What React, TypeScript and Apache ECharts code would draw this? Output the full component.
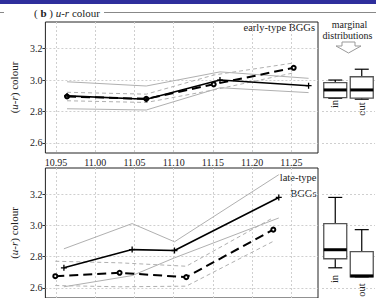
import React, { useEffect, useRef } from "react";
import * as echarts from "echarts";

// ---- data ----
const xTicks = [10.95, 11.0, 11.05, 11.1, 11.15, 11.2, 11.25];
const yTicks = [2.6, 2.8, 3.0, 3.2];
const yTicksBoxTop = [2.6, 2.8, 3.0];
const yTicksBoxBottom = [2.6, 2.8, 3.0, 3.2];

// early-type BGGs (top panel)
const topInX = [10.964, 11.065, 11.159, 11.272];
const topInY = [2.899, 2.878, 3.0, 2.964];
const topInHi = [2.989, 2.962, 3.052, 3.011];
const topInLo = [2.817, 2.809, 2.951, 2.92];
const topOutX = [10.964, 11.065, 11.151, 11.253];
const topOutY = [2.895, 2.88, 2.973, 3.078];
const topOutHi = [2.922, 2.91, 3.032, 3.109];
const topOutLo = [2.868, 2.857, 2.937, 3.046];

// late-type BGGs (bottom panel)
const botInX = [10.96, 11.047, 11.101, 11.234];
const botInY = [2.729, 2.846, 2.84, 3.181];
const botInHi = [2.851, 3.013, 2.896, 3.327];
const botInLo = [2.607, 2.679, 2.793, 3.049];
const botOutX = [10.949, 11.031, 11.116, 11.227];
const botOutY = [2.675, 2.697, 2.669, 2.974];
const botOutHi = [2.771, 2.761, 2.739, 3.051];
const botOutLo = [2.615, 2.607, 2.611, 2.899];

// marginal distributions: [min, q1, median, q3, max]
const boxCats = ["in", "out"];
const topBoxMin = [2.884, 2.878];
const topBoxQ1 = [2.888, 2.885];
const topBoxMed = [2.937, 2.937];
const topBoxQ3 = [2.983, 3.021];
const topBoxMax = [3.0, 3.069];
const botBoxMin = [2.729, 2.67];
const botBoxQ1 = [2.787, 2.671];
const botBoxMed = [2.845, 2.677];
const botBoxQ3 = [3.013, 2.833];
const botBoxMax = [3.181, 2.974];

const FONT = "Liberation Serif";
const X_MIN = 10.9364;
const X_MAX = 11.284;
const Y_MIN = 2.535;
const Y_MAX = 3.37;

const pairs = (xs: number[], ys: number[]) => xs.map((x, i) => [x, ys[i]]);

const PLUS = "path://M0,5L10,5M5,0L5,10";

function lineSeries(
  name: string,
  idx: number,
  xs: number[],
  ys: number[],
  kind: "in" | "out" | "inBand" | "outBand"
): any {
  const base: any = {
    name,
    type: "line",
    xAxisIndex: idx,
    yAxisIndex: idx,
    data: pairs(xs, ys),
    silent: true,
  };
  if (kind === "inBand") {
    return { ...base, symbol: "none", z: 2, lineStyle: { color: "#b0b0b0", width: 1 } };
  }
  if (kind === "outBand") {
    return { ...base, symbol: "none", z: 2, lineStyle: { color: "#b0b0b0", width: 1, type: [4, 3] } };
  }
  if (kind === "in") {
    return {
      ...base,
      z: 5,
      symbol: PLUS,
      symbolSize: 6,
      itemStyle: { color: "#000", borderColor: "#000", borderWidth: 1.3 },
      lineStyle: { color: "#000", width: 1.6 },
    };
  }
  return {
    ...base,
    z: 4,
    symbol: "emptyCircle",
    symbolSize: 4,
    itemStyle: { color: "#000", borderColor: "#000", borderWidth: 1 },
    lineStyle: { color: "#000", width: 2, type: [9, 5] },
  };
}

function boxSeries(idx: number, mins: number[], q1: number[], med: number[], q3: number[], max: number[]): any {
  const data = boxCats.map((_, i) => [i, mins[i], q1[i], med[i], q3[i], max[i]]);
  return {
    type: "custom",
    xAxisIndex: idx,
    yAxisIndex: idx,
    data,
    encode: { x: 0, y: [1, 2, 3, 4, 5] },
    silent: true,
    renderItem: (_params: any, api: any) => {
      const c = api.value(0);
      const xc = api.coord([c, api.value(3)])[0];
      const yMin = api.coord([c, api.value(1)])[1];
      const yQ1 = api.coord([c, api.value(2)])[1];
      const yMed = api.coord([c, api.value(3)])[1];
      const yQ3 = api.coord([c, api.value(4)])[1];
      const yMax = api.coord([c, api.value(5)])[1];
      const hw = 11.5;
      const cw = 7;
      const ws = { stroke: "#000", lineWidth: 1.2 };
      return {
        type: "group",
        children: [
          { type: "line", shape: { x1: xc, y1: yMax, x2: xc, y2: yQ3 }, style: ws },
          { type: "line", shape: { x1: xc, y1: yQ1, x2: xc, y2: yMin }, style: ws },
          { type: "line", shape: { x1: xc - cw, y1: yMax, x2: xc + cw, y2: yMax }, style: ws },
          { type: "line", shape: { x1: xc - cw, y1: yMin, x2: xc + cw, y2: yMin }, style: ws },
          {
            type: "rect",
            shape: { x: xc - hw, y: yQ3, width: 2 * hw, height: yQ1 - yQ3 },
            style: { fill: "#fff", stroke: "#555", lineWidth: 1.3 },
          },
          {
            type: "line",
            shape: { x1: xc - hw, y1: yMed, x2: xc + hw, y2: yMed },
            style: { stroke: "#000", lineWidth: 3 },
          },
        ],
      };
    },
  };
}

const splitLineStyle = { show: true, lineStyle: { color: "#cfcfcf", width: 1, type: [2, 2] } };

function mainX(idx: number, showLabels: boolean): any {
  return {
    type: "value",
    gridIndex: idx,
    min: X_MIN,
    max: X_MAX,
    axisLine: { show: false },
    axisTick: { show: false, customValues: xTicks },
    axisLabel: {
      show: showLabels,
      customValues: xTicks,
      formatter: (v: number) => v.toFixed(2),
      fontFamily: FONT,
      fontSize: 10,
      color: "#222",
      margin: 4,
    },
    splitLine: splitLineStyle,
  };
}

function mainY(idx: number): any {
  return {
    type: "value",
    gridIndex: idx,
    min: Y_MIN,
    max: Y_MAX,
    axisLine: { show: false },
    axisTick: { show: true, length: 3, customValues: yTicks, lineStyle: { color: "#333" } },
    axisLabel: {
      customValues: yTicks,
      formatter: (v: number) => v.toFixed(1),
      fontFamily: FONT,
      fontSize: 10,
      color: "#222",
      margin: 3,
    },
    splitLine: splitLineStyle,
    name: "{p|(}{i|u-r}{p|) colour}",
    nameLocation: "middle",
    nameRotate: 90,
    nameGap: 20,
    nameTextStyle: {
      rich: {
        p: { fontFamily: FONT, fontSize: 11, color: "#222" },
        i: { fontFamily: FONT, fontSize: 11, fontStyle: "italic", color: "#222" },
      },
    },
  };
}

function boxX(idx: number): any {
  return {
    type: "category",
    gridIndex: idx,
    data: boxCats,
    axisLine: { show: false },
    axisTick: { show: false },
    axisLabel: { show: false },
    splitLine: { show: false },
  };
}

function boxY(idx: number, ticks: number[]): any {
  return {
    type: "value",
    gridIndex: idx,
    min: Y_MIN,
    max: Y_MAX,
    axisLine: { show: false },
    axisTick: { show: false, customValues: ticks },
    axisLabel: { show: false, customValues: ticks },
    splitLine: splitLineStyle,
  };
}

const txt = (text: string, x: number, y: number, align: string, extra: any = {}) => ({
  type: "text",
  x,
  y,
  silent: true,
  ...extra,
  style: {
    text,
    fontFamily: FONT,
    fontSize: 10.5,
    fill: "#222",
    align,
    verticalAlign: "middle",
    ...(extra.style || {}),
  },
});

export default function App() {
  const ref = useRef<HTMLDivElement>(null);
  useEffect(() => {
    if (!ref.current) return;
    const chart = echarts.init(ref.current, null, { renderer: "svg" });
    const gridBox = { show: true, borderColor: "#222", borderWidth: 1, backgroundColor: "transparent" };
    chart.setOption({
      animation: false,
      backgroundColor: "#fff",
      grid: [
        { left: 35, top: 22, width: 283, height: 131, ...gridBox },
        { left: 35, top: 168, width: 283, height: 131, ...gridBox },
        { left: 322, top: 22, width: 53, height: 131 },
        { left: 322, top: 168, width: 53, height: 131 },
      ],
      xAxis: [mainX(0, true), mainX(1, false), boxX(2), boxX(3)],
      yAxis: [mainY(0), mainY(1), boxY(2, yTicksBoxTop), boxY(3, yTicksBoxBottom)],
      series: [
        lineSeries("topInHi", 0, topInX, topInHi, "inBand"),
        lineSeries("topInLo", 0, topInX, topInLo, "inBand"),
        lineSeries("topOutHi", 0, topOutX, topOutHi, "outBand"),
        lineSeries("topOutLo", 0, topOutX, topOutLo, "outBand"),
        lineSeries("topOut", 0, topOutX, topOutY, "out"),
        lineSeries("topIn", 0, topInX, topInY, "in"),
        lineSeries("botInHi", 1, botInX, botInHi, "inBand"),
        lineSeries("botInLo", 1, botInX, botInLo, "inBand"),
        lineSeries("botOutHi", 1, botOutX, botOutHi, "outBand"),
        lineSeries("botOutLo", 1, botOutX, botOutLo, "outBand"),
        lineSeries("botOut", 1, botOutX, botOutY, "out"),
        lineSeries("botIn", 1, botInX, botInY, "in"),
        boxSeries(2, topBoxMin, topBoxQ1, topBoxMed, topBoxQ3, topBoxMax),
        boxSeries(3, botBoxMin, botBoxQ1, botBoxMed, botBoxQ3, botBoxMax),
      ],
      graphic: [
        { type: "rect", shape: { x: 0, y: 0, width: 376, height: 4 }, style: { fill: "#2e2e9c" }, silent: true },
        { type: "line", shape: { x1: 0, y1: 12.5, x2: 4, y2: 12.5 }, style: { stroke: "#888", lineWidth: 1 }, silent: true },
        { type: "line", shape: { x1: 104, y1: 12.5, x2: 376, y2: 12.5 }, style: { stroke: "#888", lineWidth: 1 }, silent: true },
        {
          type: "text",
          x: 34,
          y: 13,
          silent: true,
          style: {
            text: "{p|( }{b|b}{p| ) }{i|u-r}{p| colour}",
            verticalAlign: "middle",
            align: "left",
            rich: {
              p: { fontFamily: FONT, fontSize: 11, fill: "#222" },
              b: { fontFamily: FONT, fontSize: 11, fontWeight: "bold", fill: "#222" },
              i: { fontFamily: FONT, fontSize: 11, fontStyle: "italic", fill: "#222" },
            },
          },
        },
        txt("early-type BGGs", 315, 27, "right"),
        txt("late-type", 316.5, 177, "right"),
        txt("BGGs", 316.5, 193, "right"),
        txt("marginal", 349.5, 24, "center", { style: { fontSize: 10 } }),
        txt("distributions", 347.5, 35, "center", { style: { fontSize: 10 } }),
        {
          type: "polygon",
          silent: true,
          shape: {
            points: [
              [342, 42],
              [355, 42],
              [355, 46],
              [361, 46],
              [348.5, 53],
              [336, 46],
              [342, 46],
            ],
          },
          style: { fill: "#fff", stroke: "#999", lineWidth: 1 },
        },
        txt("in", 334, 104, "center", { rotation: Math.PI / 2 }),
        txt("out", 361.5, 109, "center", { rotation: Math.PI / 2 }),
        txt("in", 334, 279, "center", { rotation: Math.PI / 2 }),
        txt("out", 361.5, 290, "center", { rotation: Math.PI / 2 }),
      ],
    });
    return () => chart.dispose();
  }, []);
  return <div ref={ref} style={{ position: "fixed", left: 0, top: 0, width: 376, height: 298 }} />;
}
